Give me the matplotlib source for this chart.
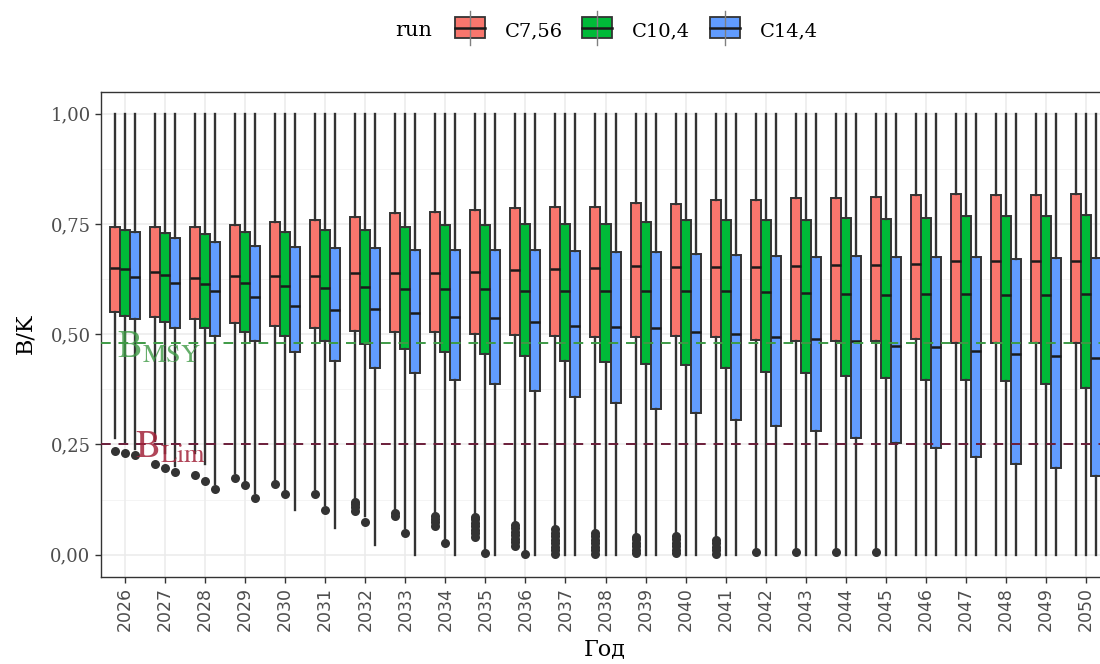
import numpy as np
import matplotlib
matplotlib.use('Agg')
import matplotlib.pyplot as plt
from matplotlib.patches import Rectangle
from matplotlib.lines import Line2D

plt.rcParams['font.family'] = ['DejaVu Serif']
plt.rcParams['mathtext.fontset'] = 'stix'

# данные
years = list(range(2026, 2051))
runs = ['C7,56', 'C10,4', 'C14,4']
colors = ['#F8766D', '#00BA38', '#619CFF']

red_q3 = [0.743, 0.743, 0.743, 0.748, 0.755, 0.759, 0.766, 0.774, 0.777, 0.781, 0.786, 0.789, 0.789,
          0.797, 0.795, 0.804, 0.804, 0.808, 0.808, 0.812, 0.816, 0.818, 0.816, 0.816, 0.818]
red_med = [0.651, 0.642, 0.627, 0.633, 0.633, 0.633, 0.638, 0.638, 0.638, 0.641, 0.645, 0.647, 0.651,
           0.654, 0.652, 0.652, 0.652, 0.654, 0.656, 0.656, 0.660, 0.665, 0.665, 0.665, 0.665]
red_q1 = [0.550, 0.540, 0.535, 0.526, 0.519, 0.515, 0.508, 0.504, 0.504, 0.500, 0.499, 0.497, 0.494,
          0.493, 0.497, 0.493, 0.487, 0.485, 0.484, 0.485, 0.490, 0.481, 0.479, 0.481, 0.481]
red_lo = [0.265, 0.257, 0.230, 0.185, 0.168, 0.148, 0.125, 0.100, 0.092, 0.090, 0.076, 0.066, 0.055,
          0.045, 0.048, 0.036, 0.012, 0.012, 0.012, 0.012, 0.0, 0.0, 0.0, 0.0, 0.0]

green_q3 = [0.736, 0.730, 0.728, 0.732, 0.732, 0.736, 0.736, 0.743, 0.747, 0.747, 0.751, 0.751, 0.751,
            0.755, 0.759, 0.759, 0.760, 0.760, 0.764, 0.762, 0.764, 0.768, 0.768, 0.768, 0.770]
green_med = [0.647, 0.634, 0.614, 0.615, 0.610, 0.604, 0.606, 0.603, 0.603, 0.603, 0.599, 0.599, 0.599,
             0.599, 0.599, 0.599, 0.595, 0.593, 0.592, 0.590, 0.592, 0.592, 0.588, 0.588, 0.592]
green_q1 = [0.542, 0.527, 0.513, 0.504, 0.497, 0.485, 0.478, 0.467, 0.459, 0.456, 0.451, 0.440, 0.436,
            0.433, 0.431, 0.424, 0.415, 0.411, 0.405, 0.401, 0.396, 0.396, 0.393, 0.388, 0.379]
green_lo = [0.255, 0.230, 0.205, 0.165, 0.145, 0.112, 0.088, 0.060, 0.035, 0.010, 0.0, 0.0, 0.0,
            0.0, 0.0, 0.0, 0.0, 0.0, 0.0, 0.0, 0.0, 0.0, 0.0, 0.0, 0.0]

blue_q3 = [0.732, 0.718, 0.708, 0.701, 0.698, 0.695, 0.695, 0.690, 0.690, 0.690, 0.690, 0.689, 0.686,
           0.686, 0.683, 0.679, 0.677, 0.675, 0.677, 0.675, 0.674, 0.674, 0.671, 0.673, 0.673]
blue_med = [0.630, 0.615, 0.599, 0.584, 0.565, 0.555, 0.558, 0.547, 0.538, 0.537, 0.527, 0.519, 0.517,
            0.515, 0.504, 0.500, 0.493, 0.488, 0.485, 0.474, 0.470, 0.462, 0.456, 0.451, 0.445]
blue_q1 = [0.535, 0.515, 0.495, 0.485, 0.459, 0.440, 0.424, 0.411, 0.396, 0.387, 0.371, 0.358, 0.345,
           0.331, 0.322, 0.305, 0.292, 0.280, 0.264, 0.254, 0.242, 0.221, 0.206, 0.196, 0.178]
blue_lo = [0.240, 0.200, 0.160, 0.140, 0.102, 0.060, 0.023, 0.0, 0.0, 0.0, 0.0, 0.0, 0.0,
           0.0, 0.0, 0.0, 0.0, 0.0, 0.0, 0.0, 0.0, 0.0, 0.0, 0.0, 0.0]

hi = 1.0  # верхние усы у всех доходят до 1

red_out = {2026: [0.235], 2027: [0.205], 2028: [0.180], 2029: [0.174], 2030: [0.160], 2031: [0.137],
           2032: [0.100, 0.107, 0.114, 0.120], 2033: [0.088, 0.094],
           2034: [0.066, 0.073, 0.080, 0.087],
           2035: [0.040, 0.048, 0.056, 0.064, 0.072, 0.080, 0.086],
           2036: [0.020, 0.028, 0.036, 0.044, 0.052, 0.060, 0.068],
           2037: [0.002, 0.010, 0.018, 0.026, 0.034, 0.042, 0.050, 0.058],
           2038: [0.002, 0.010, 0.018, 0.026, 0.034, 0.042, 0.050],
           2039: [0.003, 0.011, 0.019, 0.027, 0.035, 0.040],
           2040: [0.003, 0.011, 0.019, 0.027, 0.035, 0.043],
           2041: [0.002, 0.010, 0.018, 0.026, 0.033],
           2042: [0.005], 2043: [0.005], 2044: [0.005], 2045: [0.005]}
green_out = {2026: [0.230], 2027: [0.197], 2028: [0.166], 2029: [0.157], 2030: [0.137], 2031: [0.102],
             2032: [0.075], 2033: [0.049], 2034: [0.026], 2035: [0.003], 2036: [0.001]}
blue_out = {2026: [0.226], 2027: [0.187], 2028: [0.148], 2029: [0.128]}

b_msy = 0.48
b_lim = 0.25

series = [(red_q1, red_med, red_q3, red_lo, red_out),
          (green_q1, green_med, green_q3, green_lo, green_out),
          (blue_q1, blue_med, blue_q3, blue_lo, blue_out)]

W, H = 1100, 664
fig = plt.figure(figsize=(11, 6.64), dpi=100)
ax = fig.add_axes([101 / W, (H - 576.7) / H, 1009 / W, 485 / H])

# сетка theme_bw
for y in [0.125, 0.375, 0.625, 0.875]:
    ax.axhline(y, color='#F2F2F2', lw=0.6, zorder=0)
for y in [0, 0.25, 0.5, 0.75, 1.0]:
    ax.axhline(y, color='#EBEBEB', lw=1.1, zorder=0)
for i in range(len(years)):
    ax.axvline(i, color='#EBEBEB', lw=1.1, zorder=0)

offsets = [-0.25, 0, 0.25]
for k, (q1, med, q3, lo, out) in enumerate(series):
    stats = []
    for i, yr in enumerate(years):
        stats.append(dict(med=med[i], q1=q1[i], q3=q3[i], whislo=lo[i], whishi=hi,
                          fliers=out.get(yr, [])))
    pos = [i + offsets[k] for i in range(len(years))]
    ax.bxp(stats, positions=pos, widths=0.25, patch_artist=True, showcaps=False,
           boxprops=dict(facecolor=colors[k], edgecolor='#333333', linewidth=1.4),
           medianprops=dict(color='#1A1A1A', linewidth=1.8),
           whiskerprops=dict(color='#333333', linewidth=1.7),
           flierprops=dict(marker='o', markerfacecolor='#333333', markeredgecolor='none',
                           markersize=6.5),
           manage_ticks=False, zorder=3)

ax.axhline(b_msy, color='#3E9A45', lw=1.4, ls=(0, (5, 4)), zorder=5)
ax.axhline(b_lim, color='#6B1E3A', lw=1.4, ls=(0, (5, 4)), zorder=5)
ax.text(0.85, b_msy - 0.008, r'$\mathrm{B}_{\mathrm{MSY}}$', color='#3E9A45', fontsize=27,
        ha='center', va='center', alpha=0.8, zorder=6)
ax.text(1.15, b_lim - 0.008, r'$\mathrm{B}_{\mathrm{Lim}}$', color='#A3243B', fontsize=27,
        ha='center', va='center', alpha=0.85, zorder=6)

ax.set_xlim(-0.6, len(years) - 0.4)
ax.set_ylim(-0.05, 1.05)
ax.set_yticks([0, 0.25, 0.5, 0.75, 1.0])
ax.set_yticklabels(['0,00', '0,25', '0,50', '0,75', '1,00'], color='#4D4D4D', fontsize=13)
ax.set_xticks(range(len(years)))
ax.set_xticklabels([str(y) for y in years], rotation=90, color='#4D4D4D', fontsize=12.5,
                   family='DejaVu Sans')
ax.tick_params(axis='both', color='#333333', length=4, width=1)
for s in ax.spines.values():
    s.set_color('#333333')
    s.set_linewidth(1)

fig.text(25 / W, 1 - 334 / H, 'B/K', rotation=90, ha='center', va='center', fontsize=16)
fig.text(605 / W, 1 - 649 / H, 'Год', ha='center', va='center', fontsize=16)

# легенда вручную, как у ggplot
fig.text(395 / W, 1 - 31 / H, 'run', ha='left', va='center', fontsize=15)
key_x = [455, 582, 710]
lab_x = [505, 632, 760]
for k in range(3):
    x0 = key_x[k]
    fig.add_artist(Line2D([(x0 + 15) / W] * 2, [1 - 11 / H, 1 - 45 / H], color='#808080',
                          lw=1, transform=fig.transFigure))
    fig.add_artist(Rectangle((x0 / W, 1 - 38 / H), 30 / W, 21 / H, facecolor=colors[k],
                             edgecolor='#333333', lw=1.3, transform=fig.transFigure))
    fig.add_artist(Line2D([x0 / W, (x0 + 30) / W], [1 - 28 / H] * 2, color='#1A1A1A',
                          lw=1.8, transform=fig.transFigure))
    fig.text(lab_x[k] / W, 1 - 31 / H, runs[k], ha='left', va='center', fontsize=14)

fig.savefig('out.png', dpi=100)
